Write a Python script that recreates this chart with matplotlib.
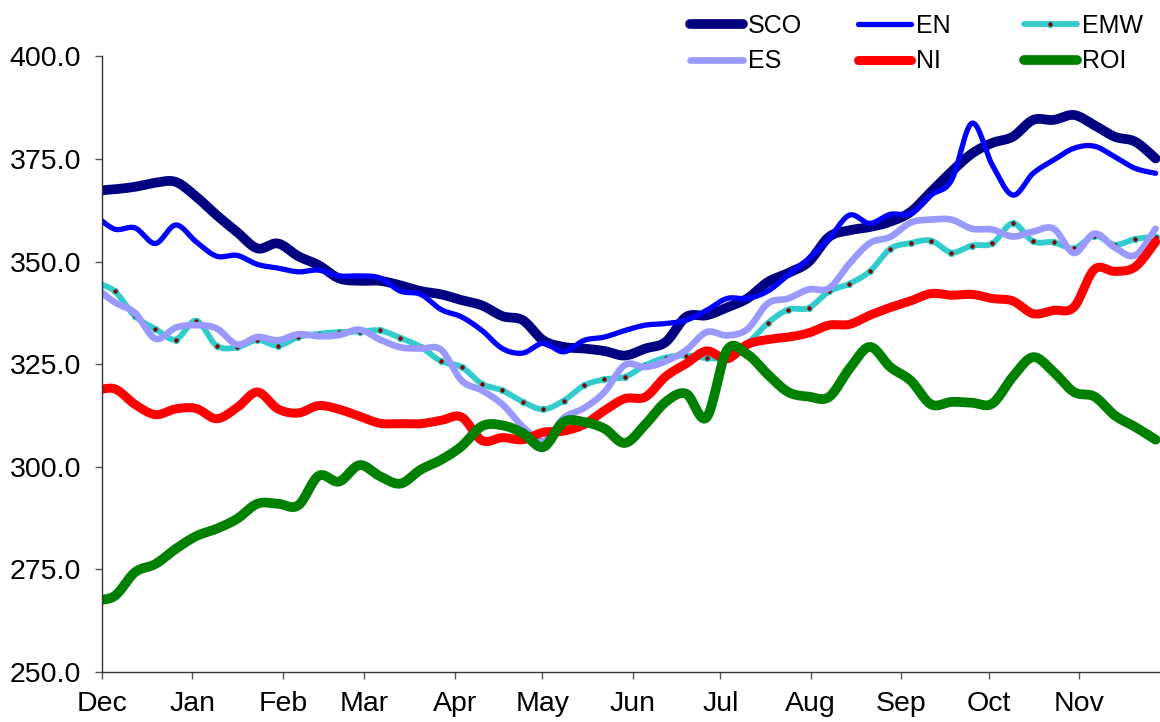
import numpy as np
import matplotlib
matplotlib.use("Agg")
import matplotlib.pyplot as plt

plt.rcParams["font.family"] = ["Liberation Sans", "DejaVu Sans"]

# weekly points, x in days from 1 Dec (first one falls just before the axis)
week_day = np.arange(53) * 7 - 2.7

month_day = [0, 31, 62, 90, 121, 151, 182, 212, 243, 274, 304, 335]
month_label = ["Dec", "Jan", "Feb", "Mar", "Apr", "May", "Jun", "Jul", "Aug", "Sep", "Oct", "Nov"]

sco = [367.2, 367.6, 368.2, 369.2, 369.4, 365.8, 361.3, 357.2, 353.2, 354.4, 351.3, 349.1, 345.9,
       345.3, 345.3, 344.2, 342.8, 342.0, 340.6, 339.3, 336.7, 335.7, 330.8, 329.2, 328.8, 328.2,
       327.1, 328.8, 330.4, 336.5, 336.9, 338.8, 341.0, 345.0, 347.2, 349.9, 356.0, 357.6, 358.4,
       359.7, 362.1, 367.0, 371.9, 376.3, 378.9, 380.4, 384.5, 384.5, 385.7, 383.2, 380.4, 379.2, 375.1]
en = [361.5, 357.9, 358.2, 354.4, 358.9, 354.8, 351.3, 351.5, 349.3, 348.4, 347.5, 347.9, 346.5,
      346.5, 346.0, 342.8, 342.0, 338.3, 336.5, 333.2, 328.8, 327.7, 330.1, 328.0, 330.8, 331.6,
      333.2, 334.5, 334.9, 335.7, 338.1, 341.0, 341.0, 342.8, 346.7, 350.7, 355.6, 361.3, 359.3,
      361.5, 361.7, 366.2, 369.8, 383.7, 373.5, 366.2, 371.5, 374.7, 377.6, 378.1, 375.5, 372.7, 371.5]
emw = [345.0, 342.8, 336.7, 333.6, 331.0, 335.6, 329.5, 329.1, 330.9, 329.5, 331.6, 332.4, 332.8,
       332.9, 333.2, 331.4, 329.2, 325.7, 324.3, 320.2, 318.6, 315.8, 314.0, 316.1, 319.8, 321.3,
       321.9, 324.7, 326.6, 327.1, 326.5, 326.7, 330.0, 335.0, 338.3, 338.7, 342.7, 344.6, 347.6,
       353.1, 354.5, 355.1, 352.2, 353.9, 354.4, 359.3, 354.9, 354.7, 353.2, 356.3, 354.1, 355.5, 356.0]
es = [344.0, 340.1, 337.5, 331.2, 333.9, 334.5, 333.7, 329.8, 331.6, 330.8, 332.3, 331.8, 332.1,
      333.4, 331.0, 329.1, 328.8, 328.5, 321.0, 318.6, 315.2, 309.8, 306.2, 311.9, 314.3, 318.2,
      324.8, 324.3, 325.7, 328.4, 332.8, 332.0, 333.5, 339.8, 341.0, 343.2, 343.5, 349.5, 354.5,
      356.0, 359.5, 360.2, 360.2, 358.0, 357.8, 356.1, 357.3, 358.0, 352.1, 356.8, 353.4, 351.5, 358.0]
ni = [318.4, 319.0, 315.2, 312.7, 314.1, 314.2, 311.7, 314.4, 318.2, 314.1, 313.1, 314.9, 314.0,
      312.3, 310.6, 310.5, 310.5, 311.3, 312.1, 306.4, 307.1, 306.6, 308.4, 308.7, 310.3, 313.7,
      316.6, 317.0, 322.0, 325.1, 328.2, 326.3, 329.8, 331.0, 331.6, 332.6, 334.5, 334.7, 336.9,
      338.8, 340.4, 342.2, 341.8, 342.0, 341.0, 340.4, 337.3, 338.1, 338.9, 348.1, 347.6, 348.7, 354.8]
roi = [267.5, 268.5, 274.3, 276.3, 280.0, 283.1, 284.9, 287.3, 291.0, 291.0, 290.6, 297.8, 296.4,
       300.4, 297.7, 295.9, 299.3, 301.7, 305.0, 309.9, 310.1, 308.2, 304.8, 310.9, 310.9, 309.3,
       305.8, 310.3, 315.8, 317.8, 312.0, 328.4, 327.4, 322.5, 318.2, 317.1, 317.0, 323.9, 329.2,
       324.3, 321.0, 315.2, 315.8, 315.6, 315.4, 321.9, 326.7, 323.1, 318.2, 317.1, 312.5, 309.7, 306.6]

STEPS = 16


def smooth(x, y, n=STEPS):
    # Catmull-Rom curve through the points, like Excel's "smoothed line"
    x = np.asarray(x, float)
    y = np.asarray(y, float)
    px = np.r_[x[0], x, x[-1]]
    py = np.r_[y[0], y, y[-1]]
    t = np.linspace(0, 1, n, endpoint=False)[:, None]

    def seg(p):
        p0, p1, p2, p3 = p[:-3], p[1:-2], p[2:-1], p[3:]
        v = 0.5 * (2 * p1 + (p2 - p0) * t + (2 * p0 - 5 * p1 + 4 * p2 - p3) * t ** 2
                   + (3 * p1 - p0 - 3 * p2 + p3) * t ** 3)
        return np.r_[v.T.ravel(), p[-2]]

    return seg(px), seg(py)


fig = plt.figure(figsize=(11.6, 7.22), dpi=100)
ax = fig.add_axes([102 / 1160, 50 / 722, 1 - 102 / 1160, (672 - 56.3) / 722])

series = [
    ("SCO", sco, "#000080", 7.0),
    ("EN", en, "#0000ff", 3.8),
    ("EMW", emw, "#33cccc", 4.2),
    ("ES", es, "#9999ff", 4.8),
    ("NI", ni, "#ff0000", 6.5),
    ("ROI", roi, "#008000", 7.0),
]
handles = {}
for name, vals, color, lw in series:
    sx, sy = smooth(week_day, vals)
    kw = {}
    if name == "EMW":
        kw = dict(marker="o", markersize=4.2, markerfacecolor="#800000",
                  markeredgecolor="#33cccc", markeredgewidth=1.0, markevery=STEPS)
    (h,) = ax.plot(sx, sy, color=color, lw=lw, solid_capstyle="round",
                   solid_joinstyle="round", label=name, **kw)
    handles[name] = h

ax.set_xlim(0, 362.8)
ax.set_ylim(250, 400)
ax.set_yticks(np.arange(250, 401, 25))
ax.set_yticklabels([f"{v:.1f}" for v in np.arange(250, 401, 25)])
ax.set_xticks(month_day)
ax.set_xticklabels(month_label)
ax.tick_params(axis="both", direction="out", length=5, width=1, color="#555555",
               labelsize=20.5, pad=9, labelcolor="black")
ax.tick_params(axis="y", pad=10)
for side in ("top", "right"):
    ax.spines[side].set_visible(False)
for side in ("left", "bottom"):
    ax.spines[side].set_color("#333333")
    ax.spines[side].set_linewidth(1)

# legend: three columns placed where the original has them
columns = [(690, ["SCO", "ES"]), (858, ["EN", "NI"]), (1024, ["EMW", "ROI"])]
for x0, names in columns:
    fig.legend([handles[k] for k in names], names, loc="upper left",
               bbox_to_anchor=(x0 / 1160, 1 - 14 / 722), frameon=False, fontsize=18,
               handlelength=2.1, handletextpad=0.2, labelspacing=0.45,
               borderpad=0.0, borderaxespad=0.0, numpoints=1)

fig.savefig("out.png", dpi=100)
